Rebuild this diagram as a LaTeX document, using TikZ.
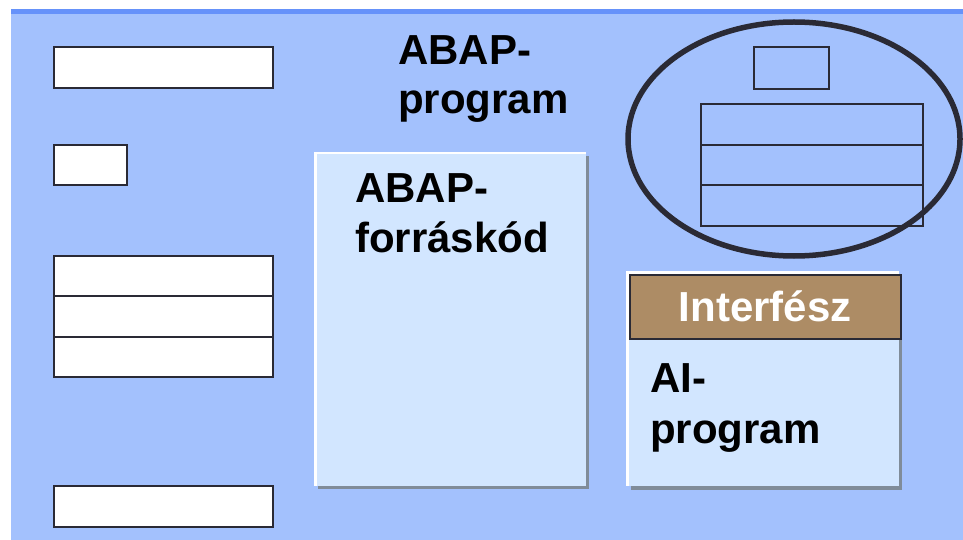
\documentclass[tikz,border=0pt]{standalone}
\usepackage{fontspec}
\setmainfont{Liberation Sans}
\definecolor{bgblue}{RGB}{163,193,253}
\definecolor{topblue}{RGB}{102,146,250}
\definecolor{boxfill}{RGB}{210,230,255}
\definecolor{shadowgray}{RGB}{128,140,153}
\definecolor{headbrown}{RGB}{173,140,101}
\definecolor{darkline}{RGB}{42,42,53}
\begin{document}
\begin{tikzpicture}[x=1pt,y=-1pt,
  whitebox/.style={draw=darkline,line width=2.2pt,fill=white},
  plainbox/.style={draw=darkline,line width=2pt},
  biglabel/.style={font=\fontsize{42}{50}\selectfont\bfseries,inner sep=0pt,anchor=base west},
  ]
\useasboundingbox (0,0) rectangle (963,540);
% background
\fill[bgblue] (11,9) rectangle (963,540);
\fill[topblue] (11,9) rectangle (963,14);
% left white boxes
\node[whitebox,minimum width=219pt,minimum height=41pt,inner sep=0pt,anchor=north west] (b1) at (53,46) {};
\node[whitebox,minimum width=73pt,minimum height=40pt,inner sep=0pt,anchor=north west] (b2) at (53,144) {};
\node[whitebox,minimum width=219pt,minimum height=40pt,inner sep=0pt,anchor=north west] (b3a) at (53,255) {};
\node[whitebox,minimum width=219pt,minimum height=41pt,inner sep=0pt,anchor=north west] (b3b) at (53,295) {};
\node[whitebox,minimum width=219pt,minimum height=40pt,inner sep=0pt,anchor=north west] (b3c) at (53,336) {};
\node[whitebox,minimum width=219pt,minimum height=41pt,inner sep=0pt,anchor=north west] (b4) at (53,485) {};
% ABAP-program label
\node[biglabel] (t1) at (398,65) {ABAP-};
\node[biglabel] (t2) at (398,114) {program};
% source box
\fill[shadowgray] (318,156) rectangle (589,489);
\fill[white] (314,152) rectangle (586,486);
\fill[boxfill] (316.5,154.5) rectangle (586,486);
\node[biglabel] (s1) at (355,203) {ABAP-};
\node[biglabel] (s2) at (355,252) {forráskód};
% ellipse with screen structure
\draw[darkline,line width=5.5pt] (794,139) ellipse [x radius=166, y radius=117];
\node[plainbox,minimum width=75pt,minimum height=42pt,inner sep=0pt,anchor=north west] (e1) at (753,46) {};
\node[plainbox,minimum width=222pt,minimum height=41pt,inner sep=0pt,anchor=north west] (e2) at (700,103) {};
\node[plainbox,minimum width=222pt,minimum height=40pt,inner sep=0pt,anchor=north west] (e3) at (700,144) {};
\node[plainbox,minimum width=222pt,minimum height=41pt,inner sep=0pt,anchor=north west] (e4) at (700,184) {};
% interface / AI program box
\fill[shadowgray] (631,277) rectangle (902,490);
\fill[white] (626,271) rectangle (899,486);
\fill[boxfill] (628.5,273.5) rectangle (899,486);
\node[draw=darkline,line width=2.2pt,fill=headbrown,minimum width=271pt,minimum height=64pt,inner sep=0pt,anchor=north west] (hd) at (628.5,273.5) {};
\node[font=\fontsize{42}{50}\selectfont\bfseries,text=white,inner sep=0pt,anchor=base] (hdt) at (hd.center |- 0,321) {Interfész};
\node[biglabel] (a1) at (650,392) {AI-};
\node[biglabel] (a2) at (650,443) {program};
\end{tikzpicture}
\end{document}
